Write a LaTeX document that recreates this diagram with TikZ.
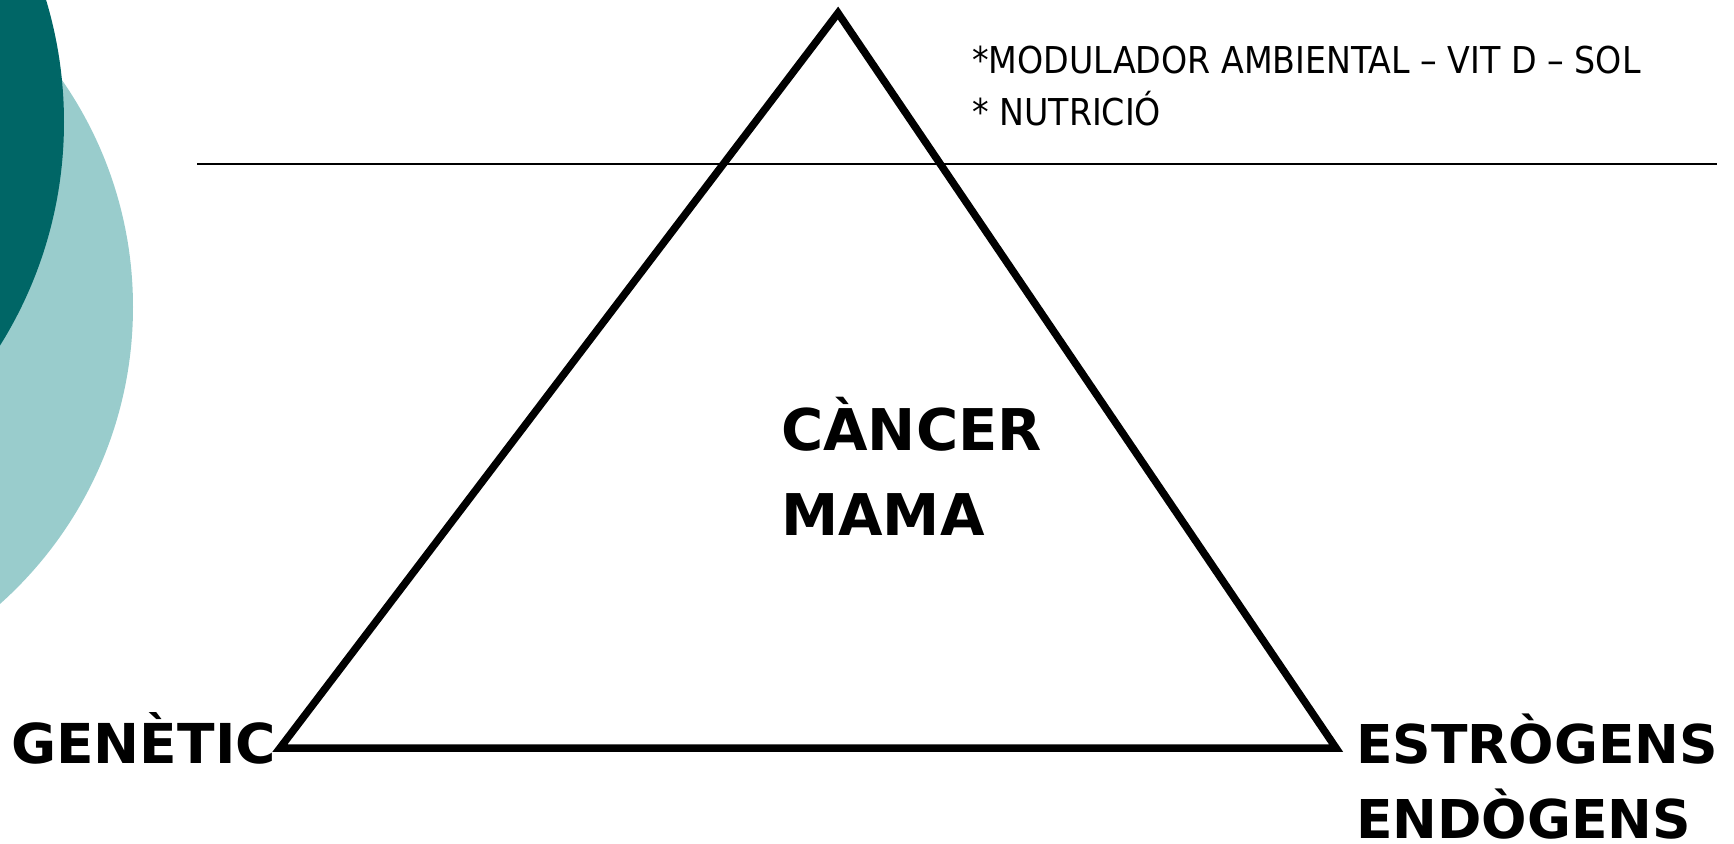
\documentclass[tikz,border=0pt]{standalone}
\usepackage{fontspec}
\setmainfont{DejaVu Sans}
\newfontfamily\condfont{DejaVu Sans Condensed}
\definecolor{tealdark}{RGB}{0,102,102}
\definecolor{teallight}{RGB}{153,204,204}
\tikzset{
  bigtxt/.style={font=\fontsize{55}{55}\selectfont\bfseries, inner sep=0pt, anchor=base west},
  midtxt/.style={font=\fontsize{57.5}{57.5}\selectfont\bfseries, inner sep=0pt, anchor=base west},
  righttxt/.style={font=\fontsize{53.5}{53.5}\selectfont\bfseries, inner sep=0pt, anchor=base west},
  smalltxt/.style={font=\condfont\fontsize{37}{37}\selectfont, inner sep=0pt, anchor=base west},
  edge/.style={line width=7.5pt, line join=miter},
}
\begin{document}
\begin{tikzpicture}[x=1pt,y=-1pt]
\useasboundingbox (0,0) rectangle (1734,843);
\begin{scope}
\clip (0,0) rectangle (1734,843);
\fill[teallight] (-265,307) circle[radius=398];
\fill[tealdark] (-358,122) circle[radius=422];
\end{scope}
\coordinate (hl) at (197,164);
\coordinate (hr) at (1717,164);
\draw[line width=2pt] (hl) -- (hr);
\coordinate (apex) at (838,13);
\coordinate (bl) at (280,748);
\coordinate (br) at (1336,748);
\draw[edge] (apex) -- (bl) -- (br) -- cycle;
\node[smalltxt] (t1) at (972,74) {*MODULADOR AMBIENTAL – VIT D – SOL};
\node[smalltxt] (t2) at (972,125) {* NUTRICIÓ};
\node[midtxt] (c1) at (781,450) {CÀNCER};
\node[midtxt] (c2) at (781,535) {MAMA};
\node[bigtxt] (g) at (11,763) {GENÈTIC};
\node[righttxt] (e1) at (1356,763) {ESTRÒGENS};
\node[righttxt] (e2) at (1356,838) {ENDÒGENS};
\end{tikzpicture}
\end{document}
